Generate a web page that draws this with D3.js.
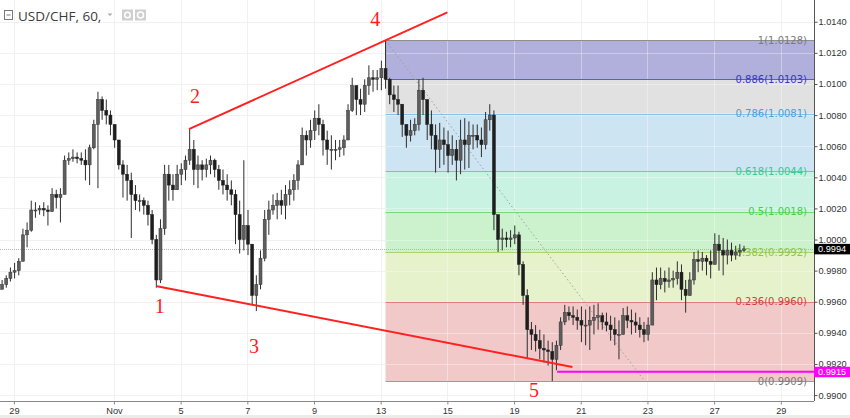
<!DOCTYPE html>
<html><head><meta charset="utf-8">
<script src="https://cdn.jsdelivr.net/npm/d3@7"></script>
<style>body{margin:0;background:#fff}svg{display:block}
.fib{font-family:"DejaVu Sans","Verdana",sans-serif;font-size:10px}
.ax{font-family:"Liberation Sans","Arial",sans-serif;font-size:9.2px}
.ttl{font-family:"Open Sans","Noto Sans",sans-serif;font-size:13.5px}
.wave{font-family:"Liberation Serif","Times New Roman",serif;font-size:20px}
</style>
</head><body><svg id="c" width="850" height="418"></svg>
<script>
// ---- DATA (USD/CHF, candles of 3 hours each) ----
const barHours = 3;
const firstOpen = 0.9968;
const highs = [
.9974,.9977,.9982,.9985,.9988,1.0007,1.0011,1.0025,1.0024,1.0022,
1.0024,1.0022,1.0033,1.0032,1.0033,1.0054,1.0056,1.0058,1.0056,1.0056,
1.0058,1.0061,1.0077,1.0095,1.0092,1.0090,1.0083,1.0074,1.0064,1.0051,
1.0048,1.0043,1.0035,1.0029,1.0027,1.0025,1.0019,1.0003,1.0013,1.0048,
1.0048,1.0042,1.0048,1.0049,1.0054,1.0071,1.0064,1.0054,1.0051,1.0052,
1.0054,1.0052,1.0048,1.0045,1.0042,1.0038,1.0032,1.0025,1.0051,1.0019,
.9997,.9977,.9993,1.0019,1.0025,1.0029,1.0030,1.0032,1.0035,1.0038,
1.0042,1.0051,1.0072,1.0070,1.0077,1.0083,1.0087,1.0077,1.0070,1.0067,
1.0064,1.0064,1.0067,1.0087,1.0104,1.0099,1.0097,1.0103,1.0112,1.0109,
1.0109,1.0115,1.0128,1.0104,1.0099,1.0099,1.0087,1.0074,1.0077,1.0078,
1.0103,1.0104,1.0090,1.0083,1.0074,1.0075,1.0072,1.0070,1.0067,1.0064,
1.0077,1.0078,1.0076,1.0074,1.0074,1.0072,1.0082,1.0087,1.0083,1.0016,
1.0007,1.0005,1.0006,1.0009,1.0005,.9986,.9968,.9947,.9945,.9942,
.9939,.9935,.9934,.9935,.9950,.9958,.9957,.9957,.9955,.9957,
.9955,.9957,.9958,.9959,.9953,.9953,.9951,.9950,.9948,.9956,
.9957,.9955,.9953,.9950,.9947,.9950,.9979,.9982,.9982,.9980,
.9982,.9980,.9986,.9984,.9974,.9979,.9992,.9993,.9992,.9990,
.9993,1.0004,1.0003,1.0001,1.0000,.9998,.9996,.9997,.9996];
const lows = [
.9968,.9969,.9973,.9975,.9977,.9986,.9995,1.0005,1.0014,1.0016,
1.0015,1.0009,1.0018,1.0020,1.0011,1.0029,1.0048,1.0050,1.0049,1.0048,
1.0038,1.0035,1.0058,1.0033,1.0077,1.0074,1.0067,1.0059,1.0045,1.0027,
1.0025,1.0001,1.0019,1.0018,1.0016,1.0009,.9997,.9969,.9972,1.0003,
1.0025,1.0025,1.0032,1.0035,1.0038,1.0048,1.0035,1.0033,1.0038,1.0040,
1.0042,1.0040,1.0032,1.0029,1.0025,1.0022,.9997,.9991,.9993,.9990,
.9958,.9954,.9968,.9986,1.0003,1.0016,1.0013,1.0016,1.0013,1.0022,
1.0025,1.0032,1.0048,1.0054,1.0059,1.0064,1.0067,1.0054,1.0048,1.0045,
1.0051,1.0053,1.0054,1.0064,1.0082,1.0080,1.0080,1.0082,1.0093,1.0095,
1.0096,1.0096,1.0097,1.0087,1.0082,1.0080,1.0066,1.0059,1.0063,1.0067,
1.0070,1.0080,1.0064,1.0058,1.0043,1.0046,1.0048,1.0043,1.0048,1.0038,
1.0042,1.0045,1.0046,1.0058,1.0059,1.0053,1.0058,1.0070,1.0006,.9992,
.9993,.9995,.9995,.9997,.9977,.9958,.9924,.9929,.9928,.9923,
.9921,.9919,.9909,.9916,.9929,.9945,.9948,.9945,.9942,.9934,
.9932,.9929,.9939,.9942,.9942,.9941,.9935,.9932,.9923,.9941,
.9943,.9939,.9940,.9937,.9934,.9935,.9947,.9961,.9968,.9966,
.9969,.9969,.9971,.9961,.9953,.9964,.9971,.9979,.9980,.9977,
.9975,.9984,.9980,.9977,.9984,.9986,.9987,.9989,.9992];
const closes = [
.9971,.9975,.9979,.9980,.9986,1.0003,1.0006,1.0019,1.0019,1.0020,
1.0019,1.0018,1.0029,1.0027,1.0029,1.0051,1.0052,1.0053,1.0052,1.0051,
1.0048,1.0059,1.0074,1.0090,1.0083,1.0080,1.0074,1.0064,1.0048,1.0042,
1.0038,1.0029,1.0025,1.0025,1.0022,1.0016,1.0000,.9974,1.0007,1.0042,
1.0035,1.0032,1.0042,1.0045,1.0051,1.0058,1.0045,1.0048,1.0045,1.0048,
1.0051,1.0045,1.0038,1.0035,1.0032,1.0029,1.0016,1.0000,1.0009,.9997,
.9964,.9971,.9988,1.0013,1.0019,1.0022,1.0025,1.0022,1.0029,1.0032,
1.0038,1.0048,1.0067,1.0064,1.0070,1.0078,1.0074,1.0064,1.0058,1.0058,
1.0058,1.0059,1.0064,1.0083,1.0099,1.0090,1.0087,1.0099,1.0104,1.0103,
1.0104,1.0110,1.0103,1.0093,1.0090,1.0087,1.0074,1.0067,1.0070,1.0074,
1.0096,1.0090,1.0074,1.0067,1.0058,1.0064,1.0061,1.0054,1.0058,1.0051,
1.0064,1.0061,1.0067,1.0067,1.0064,1.0061,1.0077,1.0080,1.0016,1.0000,
1.0001,1.0000,1.0001,1.0003,.9984,.9964,.9942,.9939,.9935,.9930,
.9929,.9928,.9923,.9932,.9947,.9953,.9951,.9950,.9948,.9945,
.9945,.9948,.9950,.9951,.9947,.9945,.9942,.9939,.9939,.9951,
.9948,.9947,.9945,.9942,.9939,.9945,.9974,.9971,.9975,.9973,
.9974,.9975,.9979,.9968,.9964,.9974,.9987,.9986,.9988,.9986,
.9984,.9997,.9993,.9990,.9993,.9990,.9992,.9993,.9994];

const xTickHours  = [10, 82, 130, 178, 226, 274, 322, 370, 418, 466, 514, 562];
const xTickLabels = ["29","Nov","5","7","9","13","15","19","21","23","27","29"];
const yTickValues = [0.9900,0.9920,0.9940,0.9960,0.9980,1.0000,1.0020,1.0040,1.0060,1.0080,1.0100,1.0120,1.0140];

const fibRatios = ["0","0.236","0.382","0.5","0.618","0.786","0.886","1"];
const fibPrices = [0.9909,0.9960,0.9992,1.0018,1.0044,1.0081,1.0103,1.0128];
const fibStartHour = 277.5;
const fibDiagEndHour = 464;

const lastPrice = 0.9994;
const supportPrice = 0.9915;
const supportStartHour = 401;

const upperLine = [[136, 1.0071], [322, 1.0146]];
const lowerLine = [[113, 0.9970], [412, 0.9918]];
const waveLabels = ["1","2","3","4","5"];
const waveHours  = [115, 140.4, 182.8, 270, 384.4];
const wavePrices = [0.9953, 1.0088, 0.9927, 1.0137, 0.9899];

// ---- STYLE ----
const fibLineColors  = ["#9a9a9a","#e07c7c","#a7d66c","#72dc72","#5dd5a8","#86c2e8","#5b5bd8","#8e8e8e"];
const fibBandColors  = ["#f2c9c9","#e6f2cb","#cbf2cc","#c9f2e2","#cde4f2","#e1e1e1","#b1afdb"];
const fibLabelColors = ["#7a7a7a","#d23c3c","#8cc63f","#3fcf3f","#39c795","#4a9fd8","#3535cf","#7a7a7a"];

const W = 850, H = 418, plotR = 814, plotB = 401;
const svg = d3.select("#c");
const x = d3.scaleLinear().domain([0, 586.6]).range([0, 815]);
const y = d3.scaleLinear().domain([0.98949, 1.01540]).range([403, 0]);

svg.append("defs").append("clipPath").attr("id","plot")
  .append("rect").attr("x",0).attr("y",0).attr("width",plotR).attr("height",plotB);

const g = svg.append("g").attr("clip-path","url(#plot)");

// grid
g.selectAll("line.vg").data(xTickHours).join("line")
  .attr("x1",d=>Math.round(x(d))+0.5).attr("x2",d=>Math.round(x(d))+0.5)
  .attr("y1",0).attr("y2",plotB).attr("stroke","#f1f1f1");
g.selectAll("line.hg").data(yTickValues).join("line")
  .attr("y1",d=>Math.round(y(d))+0.5).attr("y2",d=>Math.round(y(d))+0.5)
  .attr("x1",0).attr("x2",plotR).attr("stroke","#f1f1f1");

// fib bands
const fx0 = x(fibStartHour);
for (let i=0;i<fibPrices.length-1;i++){
  g.append("rect").attr("x",fx0).attr("width",plotR-fx0)
    .attr("y",y(fibPrices[i+1])).attr("height",y(fibPrices[i])-y(fibPrices[i+1]))
    .attr("fill",fibBandColors[i]);
}
g.selectAll("line.vg2").data(xTickHours.filter(h=>x(h)>fx0)).join("line")
  .attr("x1",d=>Math.round(x(d))+0.5).attr("x2",d=>Math.round(x(d))+0.5)
  .attr("y1",y(fibPrices[7])).attr("y2",y(fibPrices[0])).attr("stroke","rgba(255,255,255,0.35)");
g.selectAll("line.hg2").data(yTickValues.filter(v=>v<fibPrices[7]&&v>fibPrices[0])).join("line")
  .attr("y1",d=>Math.round(y(d))+0.5).attr("y2",d=>Math.round(y(d))+0.5)
  .attr("x1",fx0).attr("x2",plotR).attr("stroke","rgba(255,255,255,0.35)");
fibPrices.forEach((p,i)=>{
  g.append("line").attr("x1",fx0).attr("x2",plotR)
   .attr("y1",Math.round(y(p))+0.5).attr("y2",Math.round(y(p))+0.5)
   .attr("stroke",fibLineColors[i]).attr("stroke-width",1);
});
g.append("line").attr("x1",fx0).attr("y1",y(fibPrices[7]))
  .attr("x2",x(fibDiagEndHour)).attr("y2",y(fibPrices[0]))
  .attr("stroke","#a0a0a0").attr("stroke-dasharray","1.5,2.5");

fibPrices.forEach((p,i)=>{
  g.append("text").attr("class","fib").attr("x",807).attr("y",y(p)).attr("dy","0.36em")
   .attr("text-anchor","end")
   .attr("fill",fibLabelColors[i]).text(fibRatios[i]+"("+p.toFixed(4)+")");
});

// current price line
g.append("line").attr("x1",0).attr("x2",plotR)
  .attr("y1",Math.round(y(lastPrice))+0.5).attr("y2",Math.round(y(lastPrice))+0.5)
  .attr("stroke","#b4b4b4").attr("stroke-dasharray","1,1");

// candles
const bw = 3;
const candles = closes.map((c,i)=>({
  h: (i*barHours + barHours/2), o: i===0?firstOpen:closes[i-1], c, hi: highs[i], lo: lows[i]
}));
const cg = g.append("g");
cg.selectAll("line.w").data(candles).join("line")
  .attr("x1",d=>x(d.h)).attr("x2",d=>x(d.h))
  .attr("y1",d=>y(Math.max(d.hi,d.o,d.c))).attr("y2",d=>y(Math.min(d.lo,d.o,d.c)))
  .attr("stroke","#2e2e2e").attr("stroke-width",1);
cg.selectAll("rect.b").data(candles).join("rect")
  .attr("x",d=>x(d.h)-bw/2).attr("width",bw)
  .attr("y",d=>y(Math.max(d.o,d.c)))
  .attr("height",d=>Math.max(1,Math.abs(y(d.o)-y(d.c))))
  .attr("fill",d=>d.c>=d.o?"#5e5e5e":"#1e1e1e")
  .attr("stroke",d=>d.c>=d.o?"#333":"#1e1e1e").attr("stroke-width",0.5);

// red channel lines
[upperLine, lowerLine].forEach(L=>{
  g.append("line").attr("x1",x(L[0][0])).attr("y1",y(L[0][1]))
   .attr("x2",x(L[1][0])).attr("y2",y(L[1][1]))
   .attr("stroke","#ff2020").attr("stroke-width",2);
});
g.append("line").attr("x1",x(supportStartHour)).attr("x2",plotR)
  .attr("y1",y(supportPrice)).attr("y2",y(supportPrice))
  .attr("stroke","#ff00ff").attr("stroke-width",2);

waveLabels.forEach((t,i)=>{
  svg.append("text").attr("class","wave").attr("x",x(waveHours[i])).attr("y",y(wavePrices[i]))
   .attr("text-anchor","middle").attr("fill","#ff1a1a").text(t);
});

// axes
const yAxis = d3.axisRight(y).tickValues(yTickValues).tickSize(3).tickFormat(d3.format(".4f"));
const ya = svg.append("g").attr("transform",`translate(${plotR+0.5},0)`).call(yAxis);
ya.attr("font-family",null).attr("font-size",null);
ya.select(".domain").attr("stroke","#555").attr("d",`M0,0V${plotB}`);
ya.selectAll(".tick line").attr("stroke","#555");
ya.selectAll(".tick text").attr("class","ax").attr("x",4).attr("fill","#333");

const xAxis = d3.axisBottom(x).tickValues(xTickHours).tickSize(3).tickFormat((d,i)=>xTickLabels[i]);
const xa = svg.append("g").attr("transform",`translate(0,${plotB+0.5})`).call(xAxis);
xa.attr("font-family",null).attr("font-size",null);
xa.select(".domain").attr("stroke","#888").attr("d",`M0,0H${plotR}`);
xa.selectAll(".tick line").attr("stroke","#888");
xa.selectAll(".tick text").attr("class","ax").attr("y",6).attr("fill","#333");

// price tags
function tag(p, bg){
  const yy = y(p);
  svg.append("rect").attr("x",plotR).attr("y",yy-5).attr("width",W-plotR).attr("height",10.5).attr("fill",bg);
  svg.append("text").attr("class","ax").attr("x",plotR+4).attr("y",yy).attr("dy","0.35em")
    .attr("fill","#fff").text(p.toFixed(4));
}
tag(lastPrice,"#000");
tag(supportPrice,"#ff00ff");

svg.append("rect").attr("x",0).attr("y",415).attr("width",W).attr("height",3).attr("fill","#ececec");

// title bar
svg.append("rect").attr("x",4.5).attr("y",10.5).attr("width",8).attr("height",9).attr("fill","none").attr("stroke","#777");
svg.append("line").attr("x1",6.5).attr("x2",10.5).attr("y1",15).attr("y2",15).attr("stroke","#777");
svg.append("text").attr("class","ttl").attr("x",18).attr("y",20.5)
  .attr("fill","#3c3c3c").text("USD/CHF, 60,");
svg.append("path").attr("d","M107.5,13.5 h5 l-2.5,2.5z").attr("fill","#aaa");
[122,135].forEach((xx,i)=>{
  svg.append("rect").attr("x",xx).attr("y",9.5).attr("width",11).attr("height",11).attr("fill","#cfcfcf");
  svg.append("circle").attr("cx",xx+5.5).attr("cy",15).attr("r",i?3:2.8).attr("fill","none").attr("stroke","#fff").attr("stroke-width",1.5);
});
</script></body></html>
